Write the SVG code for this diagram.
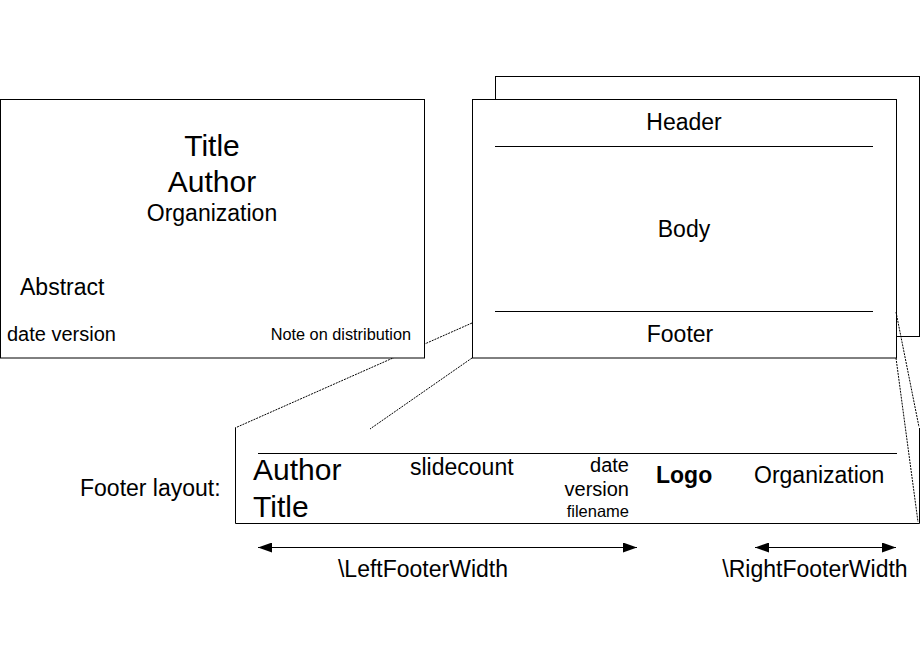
<svg xmlns="http://www.w3.org/2000/svg" width="920" height="660" viewBox="0 0 920 660">
<defs>
<style>
text{font-family:"Liberation Sans",Arial,sans-serif;fill:#000}
.box{fill:#fff;stroke:#000;stroke-width:1}
.ln{stroke:#000;stroke-width:1;fill:none}
.dot{stroke:#000;stroke-width:1;stroke-dasharray:2 1;fill:none}
.s23{font-size:23px}
.s30{font-size:30px}
.s20{font-size:20px}
.mid{text-anchor:middle}
.end{text-anchor:end}
</style>
<marker id="ah" viewBox="0 0 14 10" refX="14" refY="5" markerWidth="14" markerHeight="10" markerUnits="userSpaceOnUse" orient="auto-start-reverse">
<path d="M0,0 L14,5 L0,10 Z" fill="#000"/>
</marker>
</defs>
<rect width="920" height="660" fill="#fff"/>
<g id="slide-back">
<rect class="box" x="495.5" y="76.5" width="424" height="260"/>
</g>
<g id="slide-front">
<rect class="box" x="472.5" y="99.5" width="424" height="258.5"/>
<line class="ln" x1="495" y1="146.5" x2="873" y2="146.5"/>
<line class="ln" x1="495" y1="311.5" x2="873" y2="311.5"/>
<text class="s23 mid" x="684" y="130">Header</text>
<text class="s23 mid" x="684" y="237">Body</text>
<text class="s23 mid" x="680" y="342">Footer</text>
</g>
<g id="connectors">
<line class="dot" x1="472" y1="323" x2="235" y2="428"/>
<line class="dot" x1="472" y1="358" x2="370" y2="429"/>
<line class="dot" x1="896" y1="312" x2="919" y2="427"/>
<line class="dot" x1="896" y1="358" x2="918" y2="522"/>
</g>
<g id="title-page">
<rect class="box" x="0.5" y="99.5" width="424" height="258.5"/>
<text class="s30 mid" x="212" y="156">Title</text>
<text class="s30 mid" x="212" y="192">Author</text>
<text class="s23 mid" x="212" y="221">Organization</text>
<text class="s23" x="20" y="295">Abstract</text>
<text class="s20" x="7" y="341">date version</text>
<text x="411" y="340" class="end" style="font-size:16.3px">Note on distribution</text>
</g>
<g id="footer-layout">
<text class="s23" x="80" y="496">Footer layout:</text>
<path class="ln" d="M235.5,428 V523.5 H919.5 V428"/>
<line class="ln" x1="258" y1="453.5" x2="897" y2="453.5"/>
<text class="s30" x="253" y="480">Author</text>
<text class="s30" x="253" y="517">Title</text>
<text class="s23" x="410" y="475">slidecount</text>
<text class="s20 end" x="629" y="472">date</text>
<text class="s20 end" x="629" y="496">version</text>
<text class="end" x="629" y="517" style="font-size:16.5px">filename</text>
<text class="s23" x="656" y="483" style="font-weight:bold">Logo</text>
<text class="s23" x="754" y="483">Organization</text>
</g>
<g id="widths">
<line class="ln" x1="258" y1="547.5" x2="637" y2="547.5" marker-start="url(#ah)" marker-end="url(#ah)"/>
<text class="s23 mid" x="423" y="577">\LeftFooterWidth</text>
<line class="ln" x1="755" y1="547.5" x2="896" y2="547.5" marker-start="url(#ah)" marker-end="url(#ah)"/>
<text class="s23 mid" x="815" y="577">\RightFooterWidth</text>
</g>
</svg>
